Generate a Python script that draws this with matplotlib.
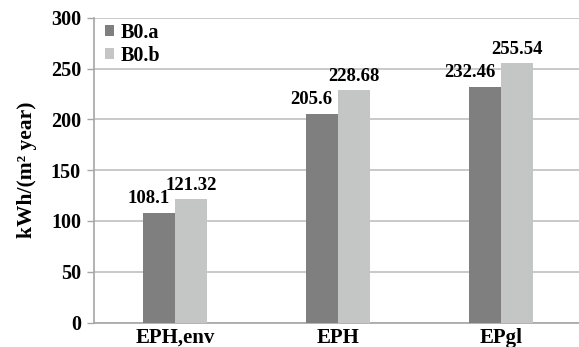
import matplotlib
matplotlib.use("Agg")
import matplotlib.pyplot as plt
import numpy as np

categories = ["EPH,env", "EPH", "EPgl"]
series_names = ["B0.a", "B0.b"]
b0a = [108.1, 205.6, 232.46]
b0b = [121.32, 228.68, 255.54]
b0a_labels = ["108.1", "205.6", "232.46"]
b0b_labels = ["121.32", "228.68", "255.54"]
yticks = [0, 50, 100, 150, 200, 250, 300]

plt.rcParams["font.family"] = ["Liberation Serif", "DejaVu Serif"]
plt.rcParams["font.weight"] = "bold"

fig = plt.figure(figsize=(5.79, 3.47), dpi=100)
ax = fig.add_axes([93.5 / 579, 1 - 322.5 / 347, 1 - 93.5 / 579, (322.5 - 18) / 347])

x = np.arange(len(categories))
w = 0.197
dark = "#7f7f7f"
light = "#c4c5c5"
bars_a = ax.bar(x - w / 2, b0a, width=w, color=dark, zorder=3, label=series_names[0])
bars_b = ax.bar(x + w / 2, b0b, width=w, color=light, zorder=3, label=series_names[1])

for rect, txt in zip(bars_a, b0a_labels):
    ax.annotate(txt, (rect.get_x() + rect.get_width(), rect.get_height()),
                xytext=(-4, 4), textcoords="offset points",
                ha="right", va="bottom", fontsize=13.5, fontweight="bold")
for rect, txt in zip(bars_b, b0b_labels):
    ax.annotate(txt, (rect.get_x() + rect.get_width() / 2, rect.get_height()),
                xytext=(0, 4), textcoords="offset points",
                ha="center", va="bottom", fontsize=13.5, fontweight="bold")

ax.set_xlim(-0.5, 2.48)
ax.set_ylim(0, 300)
ax.set_yticks(yticks)
ax.set_yticklabels([str(t) for t in yticks], fontsize=14.5, fontweight="bold")
ax.set_xticks(x)
ax.set_xticklabels(categories, fontsize=15, fontweight="bold")
ax.tick_params(axis="x", length=0, pad=4)
ax.tick_params(axis="y", length=5, width=1, color="#a6a6a6", pad=4)

ax.grid(axis="y", color="#c0c0c0", linewidth=1.2, zorder=0)
for s in ["top", "right"]:
    ax.spines[s].set_visible(False)
ax.spines["left"].set_color("#a6a6a6")
ax.spines["bottom"].set_color("#a6a6a6")
ax.spines["left"].set_linewidth(1.2)
ax.spines["bottom"].set_linewidth(1.2)

ax.set_ylabel("kWh/(m² year)", fontsize=15.5, fontweight="bold", labelpad=10)

leg = ax.legend(loc="upper left", bbox_to_anchor=(0.024, 0.985), frameon=False,
                prop={"size": 14.5, "weight": "bold"}, handlelength=0.45, handleheight=0.45,
                handletextpad=0.3, labelspacing=0.15, borderaxespad=0, borderpad=0)

fig.savefig("out.png", dpi=100)
